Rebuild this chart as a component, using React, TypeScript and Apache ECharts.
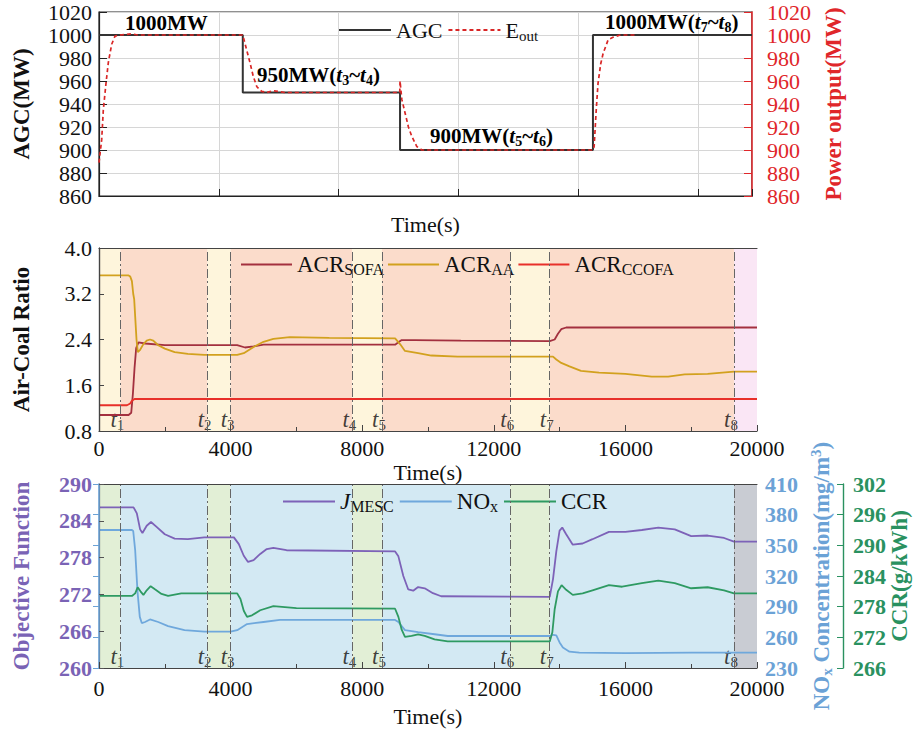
import React, { useEffect, useRef } from 'react';
import * as echarts from 'echarts';

const SERIF = "'Liberation Serif', 'Times New Roman', serif";

// ---------- Panel (a): AGC / power output ----------
const agcTime = [0, 4800, 4800, 10050, 10050, 16490, 16490, 21800];
const agcMW = [1000, 1000, 950, 950, 900, 900, 1000, 1000];
const eoutTime = [0, 90, 144, 234, 311, 424, 534, 700, 1100, 1300, 4800, 4930, 5040, 5150, 5270, 5430, 5600, 5800, 5980, 6200, 10040, 10050, 10110, 10220, 10330, 10440, 10610, 10780, 16490, 16530, 16600, 16660, 16750, 16830, 17000, 17160, 17400, 17960];
const eoutMW = [889, 909, 935, 958, 976, 992, 999, 1000, 1001, 1000, 1000, 987, 976, 964, 955, 951, 950, 951.5, 951, 950, 950, 960, 944, 932, 920, 912, 903, 900, 900, 903, 935, 958, 975, 984, 996, 998, 1000, 1000];

// ---------- Panel (b): air-coal ratio ----------
const sofaTime = [0, 900, 980, 1030, 1080, 1130, 1200, 1400, 2000, 4200, 4440, 4700, 5000, 9000, 9100, 9200, 9600, 11000, 13700, 13850, 13950, 14050, 14200, 15000, 20000];
const sofaVal = [1.08, 1.08, 1.12, 1.45, 1.9, 2.25, 2.35, 2.33, 2.3, 2.3, 2.26, 2.28, 2.31, 2.31, 2.35, 2.39, 2.39, 2.38, 2.37, 2.4, 2.5, 2.58, 2.61, 2.61, 2.61];
const aaTime = [0, 900, 950, 1000, 1040, 1070, 1100, 1140, 1180, 1250, 1350, 1450, 1550, 1650, 1800, 2000, 2300, 2700, 3200, 4200, 4400, 4700, 5000, 5300, 5800, 7000, 9000, 9150, 9300, 9700, 10100, 10900, 13800, 13900, 14050, 14300, 14650, 15200, 16000, 16800, 17300, 17800, 18500, 19300, 20000];
const aaVal = [3.52, 3.52, 3.5, 3.42, 3.2, 3.1, 2.8, 2.4, 2.18, 2.22, 2.32, 2.38, 2.4, 2.38, 2.3, 2.24, 2.18, 2.15, 2.13, 2.13, 2.16, 2.27, 2.36, 2.41, 2.44, 2.43, 2.42, 2.32, 2.2, 2.16, 2.12, 2.1, 2.1, 2.05, 1.99, 1.93, 1.85, 1.82, 1.8, 1.75, 1.75, 1.79, 1.8, 1.84, 1.84];
const ccofaTime = [0, 850, 950, 1000, 1080, 20000];
const ccofaVal = [1.25, 1.25, 1.28, 1.33, 1.36, 1.36];

// ---------- Panel (c): objective, NOx, CCR ----------
const jTime = [0, 1050, 1150, 1250, 1320, 1450, 1580, 1750, 2000, 2300, 2700, 3200, 4100, 4250, 4400, 4530, 4700, 4900, 5100, 5300, 5700, 9000, 9100, 9250, 9400, 9550, 9700, 9900, 10150, 10400, 13700, 13800, 13900, 14000, 14080, 14200, 14400, 14700, 15000, 15500, 16000, 16500, 17000, 17500, 18000, 18500, 19000, 19300, 20000];
const jVal = [286.2, 286.2, 285.2, 282.6, 282.0, 283.2, 283.8, 283.0, 281.8, 281.1, 281.0, 281.3, 281.3, 280.2, 278.3, 277.3, 277.6, 278.6, 279.4, 279.6, 279.2, 279.0, 278.2, 275.0, 272.8, 272.6, 273.2, 273.0, 272.2, 271.7, 271.6, 274.5, 279, 282.4, 282.9, 281.8, 280.1, 280.3, 281.0, 282.2, 282.2, 282.5, 282.9, 282.6, 281.5, 281.6, 281.2, 280.6, 280.6];
const noxTime = [0, 1000, 1040, 1100, 1170, 1240, 1300, 1400, 1550, 1800, 2100, 2600, 3200, 4000, 4200, 4500, 5000, 5500, 9000, 9100, 9300, 9700, 10200, 10600, 13700, 13800, 13900, 14000, 14100, 14300, 14600, 16000, 18000, 20000];
const noxVal = [365, 365, 364, 345, 305, 280, 274, 275, 277.5, 275, 271, 267, 265.5, 265.5, 267, 273, 275, 277, 277, 275, 267, 265, 263, 261.3, 261.3, 262.5, 262, 255, 250, 246, 245, 244.5, 245, 245];
const ccrTime = [0, 1000, 1100, 1175, 1260, 1350, 1450, 1570, 1700, 1900, 2100, 2500, 4200, 4300, 4400, 4500, 4650, 4900, 5300, 6000, 9000, 9100, 9200, 9300, 9500, 9700, 9900, 10200, 10600, 13700, 13780, 13850, 13950, 14060, 14200, 14400, 14700, 15000, 15500, 15900, 16500, 17000, 17500, 18000, 18500, 19000, 19300, 20000];
const ccrVal = [280.1, 280.1, 280.6, 281.8, 281.0, 280.3, 281.2, 282.0, 281.4, 280.5, 280.1, 280.6, 280.6, 279.5, 277.2, 276.0, 276.3, 277.3, 278.1, 277.7, 277.6, 276.0, 273.5, 272.1, 272.3, 272.6, 272.3, 271.6, 271.2, 271.2, 273, 277.5, 281.0, 282.2, 281.3, 280.3, 280.6, 281.2, 282.2, 281.9, 282.6, 283.1, 282.6, 281.6, 281.8, 281.2, 280.6, 280.6];

// ---------- Stage markers ----------
const stageTimes = [650, 3300, 4000, 7700, 8600, 12500, 13700, 19300];
const bandEdges = [0, 650, 3300, 4000, 7700, 8600, 12500, 13700, 19300, 20000];
const bandColorsB = ['#fef5dc', '#fbdccb', '#fef5dc', '#fbdccb', '#fef5dc', '#fbdccb', '#fef5dc', '#fbdccb', '#fae6f5'];
const bandColorsC = ['#e2efd6', '#d3e9f3', '#e2efd6', '#d3e9f3', '#e2efd6', '#d3e9f3', '#e2efd6', '#d3e9f3', '#c9ccd3'];
const stageLabelYB = 1.0;
const stageLabelYC = 261.9;

const zip = (a: number[], b: number[]) => a.map((t, i) => [t, b[i]]);

const rich = (color: string, size = 22, weight: any = 'normal', sub = 15) => ({
  a: { fontFamily: SERIF, fontSize: size, fontWeight: weight, color, lineHeight: 26 },
  i: { fontFamily: SERIF, fontSize: size, fontStyle: 'italic', fontWeight: weight, color, lineHeight: 26 },
  s: { fontFamily: SERIF, fontSize: sub, fontWeight: weight, color, lineHeight: 14, verticalAlign: 'bottom' },
  p: { fontFamily: SERIF, fontSize: sub, fontWeight: weight, color, lineHeight: 14, verticalAlign: 'top' },
});

const legendText: Record<string, string> = {
  AGC: '{a|AGC}',
  Eout: '{a|E}{s|out}',
  ACR_SOFA: '{a|ACR}{s|SOFA}',
  ACR_AA: '{a|ACR}{s|AA}',
  ACR_CCOFA: '{a|ACR}{s|CCOFA}',
  J_MESC: '{i|J}{s|MESC}',
  NOx: '{a|NO}{s|x}',
  CCR: '{a|CCR}',
};

const bands = (colors: string[]) =>
  colors.map((c, i) => [
    { xAxis: bandEdges[i], itemStyle: { color: c, opacity: 1 } },
    { xAxis: bandEdges[i + 1] },
  ]);

const annRich = {
  b: { fontFamily: SERIF, fontSize: 21, fontWeight: 'bold', color: '#1a1a1a', lineHeight: 26 },
  i: { fontFamily: SERIF, fontSize: 21, fontWeight: 'bold', fontStyle: 'italic', color: '#1a1a1a', lineHeight: 26 },
  s: { fontFamily: SERIF, fontSize: 14, fontWeight: 'bold', color: '#1a1a1a', lineHeight: 14, verticalAlign: 'bottom' },
};

const plain = (v: number) => String(v);

function buildOption(): any {
  const black = '#111';
  const red = '#e0262a';
  const purple = '#7a63b5';
  const blue = '#6ba2d6';
  const green = '#2a9160';

  const tickLabel = (color: string, weight: any = 'normal', margin = 8, lineHeight = 20) => ({
    fontFamily: SERIF, fontSize: 22, color, fontWeight: weight, margin, lineHeight, formatter: plain,
  });
  const nameStyle = (color: string) => ({ fontFamily: SERIF, fontSize: 23, fontWeight: 'bold', color });
  const xNameStyle = { fontFamily: SERIF, fontSize: 22, color: black };

  const markerSeries = (xi: number, yi: number, yPos: number, colors: string[]) => ({
    type: 'scatter',
    xAxisIndex: xi,
    yAxisIndex: yi,
    z: 1,
    silent: true,
    symbolSize: 1,
    itemStyle: { color: 'rgba(0,0,0,0)' },
    data: stageTimes.map((t) => [t, yPos]),
    label: {
      show: true,
      position: 'inside',
      offset: [-3, 0],
      formatter: (p: any) => `{i|t}{s|${p.dataIndex + 1}}`,
      rich: rich('#111', 23, 'normal', 15),
    },
    markArea: { silent: true, data: bands(colors) },
    markLine: {
      silent: true,
      symbol: ['none', 'none'],
      label: { show: false },
      lineStyle: { color: '#666', type: [9, 3, 2, 3], width: 1 },
      data: stageTimes.map((t) => ({ xAxis: t })),
    },
  });

  const lineSeries = (name: string, xi: number, yi: number, data: number[][], color: string, extra: any = {}) => ({
    name,
    type: 'line',
    xAxisIndex: xi,
    yAxisIndex: yi,
    z: 3,
    symbol: 'none',
    showSymbol: false,
    data,
    lineStyle: { color, width: 1.8, ...(extra.lineStyle || {}) },
    itemStyle: { color },
  });

  const legendBase = {
    orient: 'horizontal',
    itemWidth: 52,
    itemHeight: 14,
    itemGap: 5,
    padding: 0,
    itemStyle: { opacity: 0 },
    formatter: (n: string) => legendText[n] || n,
    textStyle: { fontFamily: SERIF, fontSize: 22, color: black, rich: rich(black, 22, 'normal', 15) },
  };

  const gridBase = { outerBoundsMode: 'none', containLabel: false };

  return {
    animation: false,
    backgroundColor: '#fff',
    textStyle: { fontFamily: SERIF },
    grid: [
      { ...gridBase, left: 99, top: 12, width: 653, height: 184, show: true, borderColor: '#222', borderWidth: 1.2, backgroundColor: '#fff' },
      { ...gridBase, left: 99, top: 248, width: 658, height: 183 },
      { ...gridBase, left: 99, top: 484, width: 658, height: 184 },
    ],
    legend: [
      { ...legendBase, data: ['AGC', 'Eout'], left: 338, top: 19 },
      {
        ...legendBase, itemWidth: 51, itemGap: 3, data: ['ACR_SOFA', 'ACR_AA', 'ACR_CCOFA'], left: 240, top: 253,
        textStyle: { fontFamily: SERIF, fontSize: 23, color: black, rich: rich(black, 23, 'normal', 16) },
      },
      {
        ...legendBase, data: ['J_MESC', 'NOx', 'CCR'], left: 282, top: 490,
        textStyle: { fontFamily: SERIF, fontSize: 23, color: black, rich: rich(black, 23, 'normal', 16) },
      },
    ],
    xAxis: [
      {
        gridIndex: 0, type: 'value', min: 0, max: 21800, interval: 4000,
        axisLine: { lineStyle: { color: '#222', width: 1.2 } },
        axisTick: { inside: true, length: 7, lineStyle: { color: '#222' } },
        axisLabel: { show: false },
        splitLine: { show: true, lineStyle: { color: '#d6d6d6' } },
        name: 'Time(s)', nameLocation: 'middle', nameGap: 17, nameTextStyle: xNameStyle,
      },
      {
        gridIndex: 1, type: 'value', min: 0, max: 20000, interval: 4000, z: 10,
        axisLine: { lineStyle: { color: '#444', width: 1.2 } },
        axisTick: { inside: true, length: 6, lineStyle: { color: '#444' } },
        minorTick: { show: true, splitNumber: 2, length: 4, lineStyle: { color: '#444' } },
        axisLabel: tickLabel(black, 'normal', 7),
        splitLine: { show: false },
        name: 'Time(s)', nameLocation: 'middle', nameGap: 30, nameTextStyle: xNameStyle,
      },
      {
        gridIndex: 2, type: 'value', min: 0, max: 20000, interval: 4000, z: 10,
        axisLine: { lineStyle: { color: '#444', width: 1.2 } },
        axisTick: { inside: true, length: 6, lineStyle: { color: '#444' } },
        minorTick: { show: true, splitNumber: 2, length: 4, lineStyle: { color: '#444' } },
        axisLabel: tickLabel(black, 'normal', 10),
        splitLine: { show: false },
        name: 'Time(s)', nameLocation: 'middle', nameGap: 37, nameTextStyle: xNameStyle,
      },
      {
        gridIndex: 1, type: 'value', position: 'top', min: 0, max: 20000, z: 10,
        axisLine: { show: true, lineStyle: { color: '#444', width: 1.2 } },
        axisTick: { show: false }, axisLabel: { show: false }, splitLine: { show: false },
      },
      {
        gridIndex: 2, type: 'value', position: 'top', min: 0, max: 20000, z: 10,
        axisLine: { show: true, lineStyle: { color: '#444', width: 1.2 } },
        axisTick: { show: false }, axisLabel: { show: false }, splitLine: { show: false },
      },
    ],
    yAxis: [
      {
        gridIndex: 0, type: 'value', min: 860, max: 1020, interval: 20,
        axisLine: { show: true, lineStyle: { color: '#222', width: 1.2 } },
        axisTick: { show: true, inside: true, length: 8, lineStyle: { color: '#222' } },
        axisLabel: tickLabel(black, 'normal', 7),
        splitLine: { show: true, lineStyle: { color: '#d6d6d6' } },
        name: 'AGC(MW)', nameLocation: 'middle', nameGap: 66, nameTextStyle: nameStyle(black),
      },
      {
        gridIndex: 0, type: 'value', position: 'right', min: 860, max: 1020, interval: 20,
        axisLine: { show: true, lineStyle: { color: red, width: 1.5 } },
        axisTick: { show: true, inside: true, length: 8, lineStyle: { color: red } },
        axisLabel: tickLabel(red, 'normal', 15),
        splitLine: { show: false },
        name: 'Power output(MW)', nameLocation: 'middle', nameGap: 68, nameTextStyle: nameStyle(red),
      },
      {
        gridIndex: 1, type: 'value', min: 0.8, max: 4.0, interval: 0.8, z: 10,
        axisLine: { show: true, lineStyle: { color: '#444', width: 1.2 } },
        axisTick: { show: true, inside: true, length: 5, lineStyle: { color: '#444' } },
        axisLabel: { ...tickLabel(black, 'normal', 7), formatter: (v: number) => v.toFixed(1) },
        splitLine: { show: false },
        name: 'Air-Coal Ratio', nameLocation: 'middle', nameGap: 66, nameTextStyle: nameStyle(black),
      },
      {
        gridIndex: 1, type: 'value', position: 'right', min: 0.8, max: 4.0, z: 10,
        axisLine: { show: true, lineStyle: { color: '#444', width: 1.2 } },
        axisTick: { show: false }, axisLabel: { show: false }, splitLine: { show: false },
      },
      {
        gridIndex: 2, type: 'value', min: 260, max: 290, interval: 6, z: 10,
        axisLine: { show: true, lineStyle: { color: '#555', width: 1.2 } },
        axisTick: { show: true, inside: true, length: 5, lineStyle: { color: '#555' } },
        axisLabel: tickLabel(purple, 'bold', 7),
        splitLine: { show: false },
        name: 'Objective Function', nameLocation: 'middle', nameGap: 66, nameTextStyle: nameStyle(purple),
      },
      {
        gridIndex: 2, type: 'value', position: 'right', min: 230, max: 410, interval: 30, z: 10,
        axisLine: { show: true, lineStyle: { color: blue, width: 1.6 } },
        axisTick: { show: true, inside: true, length: 6, lineStyle: { color: blue } },
        axisLabel: tickLabel(blue, 'bold', 8, 16),
        splitLine: { show: false },
        name: '{a|NO}{s|x}{a| Concentration(mg/m}{p|3}{a|)}',
        nameLocation: 'middle', nameGap: 51, nameMoveOverlap: false,
        nameTextStyle: { ...nameStyle(blue), rich: rich(blue, 23, 'bold', 15) },
      },
      {
        gridIndex: 2, type: 'value', position: 'right', offset: 86, min: 266, max: 302, interval: 6, z: 10,
        axisLine: { show: true, lineStyle: { color: green, width: 1.4 } },
        axisTick: { show: true, inside: true, length: 6, lineStyle: { color: green } },
        axisLabel: tickLabel(green, 'bold', 10),
        splitLine: { show: false },
        name: 'CCR(g/kWh)', nameLocation: 'middle', nameGap: 45, nameMoveOverlap: false,
        nameTextStyle: { ...nameStyle(green), lineHeight: 22 },
      },
    ],
    graphic: [
      { type: 'text', left: 125, top: 12, z: 20, style: { text: '{b|1000MW}', rich: annRich } },
      { type: 'text', left: 257, top: 64, z: 20, style: { text: '{b|950MW(}{i|t}{s|3}{b|~}{i|t}{s|4}{b|)}', rich: annRich } },
      { type: 'text', left: 430, top: 125, z: 20, style: { text: '{b|900MW(}{i|t}{s|5}{b|~}{i|t}{s|6}{b|)}', rich: annRich } },
      { type: 'text', left: 605, top: 11, z: 20, style: { text: '{b|1000MW(}{i|t}{s|7}{b|~}{i|t}{s|8}{b|)}', rich: annRich } },
    ],
    series: [
      lineSeries('AGC', 0, 0, zip(agcTime, agcMW), '#333333', { lineStyle: { width: 2 } }),
      lineSeries('Eout', 0, 1, zip(eoutTime, eoutMW), '#d92626', { lineStyle: { type: [4, 3], width: 1.7 } }),
      markerSeries(1, 2, stageLabelYB, bandColorsB),
      lineSeries('ACR_SOFA', 1, 2, zip(sofaTime, sofaVal), '#a3303f'),
      lineSeries('ACR_AA', 1, 2, zip(aaTime, aaVal), '#d2a11e'),
      lineSeries('ACR_CCOFA', 1, 2, zip(ccofaTime, ccofaVal), '#e8302a'),
      markerSeries(2, 4, stageLabelYC, bandColorsC),
      lineSeries('J_MESC', 2, 4, zip(jTime, jVal), '#7d62b8'),
      lineSeries('NOx', 2, 5, zip(noxTime, noxVal), '#6fa8dc'),
      lineSeries('CCR', 2, 6, zip(ccrTime, ccrVal), '#2e9a62'),
    ],
  };
}

export default function App() {
  const ref = useRef<HTMLDivElement>(null);
  useEffect(() => {
    if (!ref.current) return;
    const chart = echarts.init(ref.current, undefined, { renderer: 'svg' });
    chart.setOption(buildOption());
    return () => chart.dispose();
  }, []);
  return (
    <div
      ref={ref}
      style={{ position: 'fixed', left: 0, top: 0, width: 914, height: 729, background: '#fff' }}
    />
  );
}
